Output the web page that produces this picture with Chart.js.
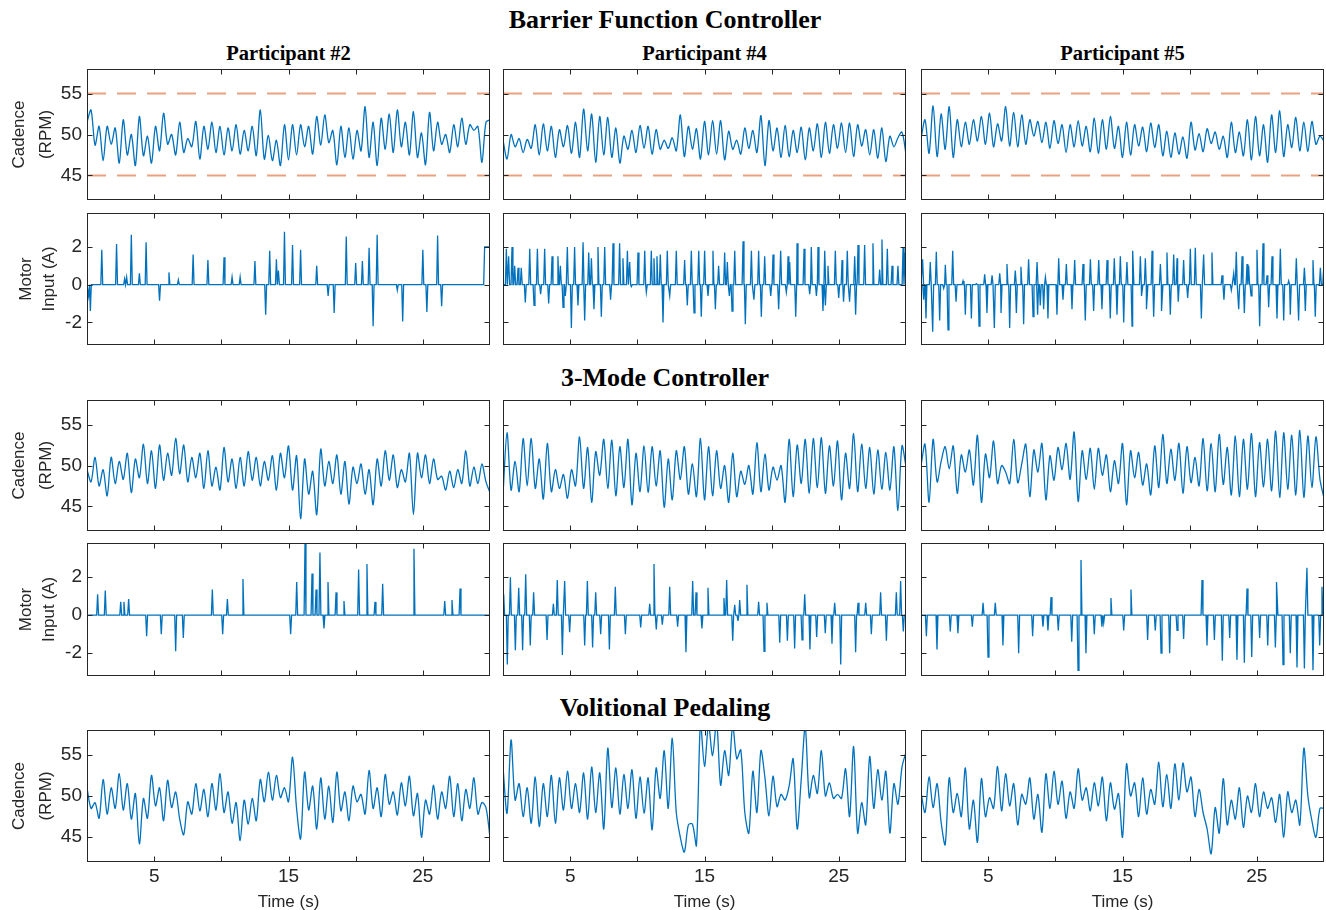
<!DOCTYPE html>
<html>
<head>
<meta charset="utf-8">
<title>Cadence and Motor Input</title>
<script src="https://cdn.jsdelivr.net/npm/chart.js@4.4.1/dist/chart.umd.min.js"></script>
<style>
  html, body { margin: 0; padding: 0; background: #fff; width: 1326px; height: 910px; overflow: hidden; }
  #fig { position: relative; width: 1326px; height: 910px; }
  .panel { position: absolute; }
  .hdr {
    position: absolute; transform: translate(-50%, -50%); white-space: nowrap;
    font-family: "Liberation Serif", "Times New Roman", serif; font-weight: bold; color: #000;
  }
  .hdr.big { font-size: 26px; }
  .hdr.sub { font-size: 20.5px; }
</style>
</head>
<body>
<div id="fig"></div>
<script>
// --- 1. DATA ---
const T_MIN = 0, T_MAX = 30;
const X_TICKS = [5, 10, 15, 20, 25];
const X_LABELS = [5, 15, 25];
const CAD_TICKS = [45, 50, 55];
const MOT_TICKS = [-2, 0, 2];
const CAD_RANGE = [42, 58];
const MOT_RANGE = [-3.2, 3.8];
const BARRIER_UPPER = 55;
const BARRIER_LOWER = 45;

const sections = ['Barrier Function Controller', '3-Mode Controller', 'Volitional Pedaling'];
const participants = ['Participant #2', 'Participant #4', 'Participant #5'];

// cadence (RPM), peaks / troughs, evenly spread over 0-30 s
const cadBfcP2 = [51.5, 53, 48.7, 51, 46.8, 51, 48.8, 50.8, 46.5, 51.8, 47.5,
  50, 46.2, 52.2, 47.4, 49.8, 46.5, 51, 48, 52.6, 48.8,
  50, 47.5, 51.5, 47.8, 49.5, 48.5, 51.6, 47, 51, 48.2,
  51.5, 47.8, 51, 47.5, 50.8, 48, 51.2, 47.6, 50.5, 48,
  51, 47.4, 53, 47, 49.9, 46.8, 49.3, 46.2, 51.2, 46.9,
  51.2, 47.5, 51.2, 48.5, 51, 47.6, 52.2, 48.7, 52.4, 49,
  50.5, 46.3, 51, 47.2, 50.8, 47, 50.5, 48, 53.4, 47.2,
  51.5, 46.2, 52, 48.2, 52.5, 47.8, 53, 48.5, 51.5, 47.5,
  52.8, 47.2, 50.2, 46.3, 52.7, 48, 51.5, 48.8, 50, 47.8,
  51.2, 48.5, 52, 48.8, 51.2, 50.5, 51, 46.6, 51.5, 51.8];
const cadBfcP4 = [49.3, 47, 50, 48.5, 49.5, 47.8, 49.4, 48.3, 51.2, 47.5, 51.3,
  48, 51, 47.2, 50.6, 48.5, 51.1, 47.7, 51.5, 47.2, 53.1,
  48, 52.5, 46.6, 52.2, 47.5, 52.1, 47.2, 50.8, 46.5, 49.8,
  48.2, 50.5, 47.8, 51.1, 48.3, 51, 47.6, 50.6, 48.2, 49.3,
  48.3, 49.6, 48, 52.4, 47.3, 51, 48.2, 50.7, 47, 51.6,
  47.5, 51.7, 47.6, 51.7, 46.9, 50.4, 48.2, 49.3, 47.6, 50.8,
  48.3, 50.5, 47.8, 52.3, 46.2, 51.7, 48, 50.8, 47.2, 51.1,
  47.3, 50.5, 47.8, 50.9, 46.9, 50.8, 48, 51.3, 47.2, 51.5,
  47.7, 51.2, 48.3, 51.4, 47.8, 51.4, 47.3, 51.2, 48.6, 50.6,
  47.5, 50.6, 47.1, 50.8, 46.7, 49.8, 48.5, 49.6, 50.3, 47.6];
const cadBfcP5 = [49.5, 51.8, 47.7, 53.5, 47.3, 52.5, 48.2, 53.4, 47.2, 51.8, 48.5,
  51.5, 48.8, 51.8, 49.2, 52.2, 48.8, 52.6, 48.5, 51.3, 49.2,
  53.4, 48.6, 52.7, 48.5, 52.4, 48.8, 51.8, 49.8, 51.6, 49,
  51.5, 48.3, 51.7, 48.9, 51.2, 47.8, 51.2, 48.5, 51.7, 48.6,
  51, 47.9, 52, 47.7, 51.8, 48.2, 52.2, 48.3, 51, 47.2,
  51.5, 47.5, 51.2, 48.6, 50.9, 47.9, 51.4, 48.4, 51.2, 47.4,
  50.4, 47.2, 50.2, 47.6, 49.7, 47.1, 51.5, 48.1, 50.1, 47.9,
  50.7, 48.9, 50.3, 48.2, 49.8, 47.2, 51.5, 47.8, 50.3, 47.4,
  51.8, 46.9, 52.2, 47.4, 51.2, 46.6, 52.4, 47.8, 52.9, 47.3,
  51.2, 48.4, 52.1, 48, 51.5, 47.9, 51.6, 48.8, 49.8, 49.2];
const cad3mP2 = [49.5, 48, 51, 47.5, 49.5, 46.3, 51, 47.8, 50.5, 48.3, 51.5,
  46.7, 50.8, 48.5, 52.6, 47.8, 51.8, 47.2, 52.5, 48.2, 51.5,
  48.8, 53.3, 49, 52.5, 48, 51, 48.5, 51.5, 47.2, 51.8,
  47.5, 49.8, 47, 52.2, 48, 50.8, 47.2, 51, 47.5, 51.7,
  48.2, 51, 47.5, 50.5, 48.2, 51.2, 47, 51.5, 48.5, 52.4,
  47, 51.2, 43.5, 50.8, 46.5, 49.3, 44, 52, 47.5, 50.5,
  47.8, 51.3, 46.5, 50.5, 45.3, 49.8, 47.8, 50.2, 46.5, 49.5,
  45.2, 50.8, 47.5, 51.8, 48.2, 51.3, 47.3, 49.5, 48, 51.5,
  44, 51.5, 48.5, 51.3, 47.8, 50.8, 48.3, 48.7, 47, 49.3,
  47.3, 49.5, 47.8, 51.8, 47.5, 49.8, 47.8, 50.2, 48, 46.7];
const cad3mP4 = [46.5, 54, 47, 50.5, 46.8, 53.3, 47.5, 53.3, 47.2, 50.8, 45.9,
  52.7, 46.8, 49.5, 47.2, 48.9, 46, 49.5, 47.5, 53.5, 47.2,
  52.2, 45.5, 51.7, 48.8, 53.2, 47.2, 53.1, 46.3, 52.3, 47.3,
  53.2, 45.2, 51.5, 46.8, 52.4, 46.7, 52.3, 47.5, 51.8, 44.9,
  50.8, 45.8, 51.8, 48.3, 52.3, 46.5, 50.2, 46.2, 53.3, 45.8,
  52.3, 46.3, 51.8, 47.2, 50, 45.5, 51.5, 46.2, 49.3, 47.7,
  50, 46.5, 52.8, 46.8, 51.4, 47, 49.8, 48.2, 50, 45.5,
  53.2, 46.2, 52.5, 47.8, 53.2, 46.6, 53.3, 47.3, 53.4, 46.6,
  52.4, 47.5, 53, 45.8, 51.5, 47.2, 53.9, 46.8, 52.6, 47.2,
  52.2, 46.5, 51.9, 47.1, 51.6, 47, 52.3, 44.5, 52.4, 49.9];
const cad3mP5 = [50, 52.6, 45.5, 53.2, 48, 50.5, 52.3, 49.6, 52.4, 46.6, 51.3,
  49.2, 51.9, 47.6, 53.7, 45.5, 51.4, 48.5, 53, 47.8, 50,
  49.2, 47.8, 53.2, 47.9, 50.2, 52.6, 46.2, 51.9, 49.2, 52.7,
  45.8, 51.2, 48.2, 52.2, 49.5, 52.7, 48.3, 54.1, 45.6, 51.8,
  48.3, 52.1, 47.1, 52.1, 48.8, 51.3, 46.8, 50.6, 47.8, 52.7,
  45.2, 51.8, 48.5, 51.6, 47.6, 50.2, 46.4, 52.4, 47.3, 53.8,
  47.8, 52, 48.2, 52.7, 46.6, 52.3, 47.9, 51, 47.5, 53.3,
  46.9, 52.7, 46.8, 53.8, 47.7, 52.2, 46.4, 53.6, 46.2, 53.2,
  47.1, 53.9, 46.2, 52.8, 47.4, 53.2, 46.9, 54.2, 46.1, 54,
  47.1, 53.7, 46.4, 54.3, 46.1, 53.6, 47.3, 53.5, 48.3, 46];
const cadVolP2 = [51, 48.5, 49.2, 47.3, 52, 47.8, 51, 48.5, 52.7, 48.3, 51.5,
  47.2, 50.3, 44.2, 49.7, 47.3, 52.5, 48.8, 51, 47, 51.9,
  48.6, 50.5, 47.2, 45.3, 49.3, 47.8, 51.5, 48.2, 50.8, 47.5,
  51.5, 48.3, 52.7, 48, 50.5, 46.7, 49.2, 44.6, 49.5, 46.6,
  49.7, 47, 52, 49.3, 52.9, 49.5, 52.5, 49.8, 51, 49.3,
  54.7, 48.5, 44.8, 52.9, 48.3, 51.2, 46, 52.2, 47.2, 51.2,
  46.8, 52.9, 48.2, 50.5, 47, 51.2, 49.3, 50.2, 47.8, 53.1,
  48.5, 51, 47.5, 52.6, 49, 50.5, 47.7, 51.6, 48.8, 52.4,
  47.6, 50.3, 45, 49.5, 47.8, 51.3, 47.2, 50.5, 48.5, 52.4,
  47.5, 51.5, 47, 50.8, 48.5, 52.2, 47.8, 49.2, 48.6, 45];
const cadVolP4 = [53.5, 47.9, 56.8, 49.5, 51.5, 47.5, 51, 46.7, 52.3, 46.3, 51.5,
  47.5, 52.5, 46.7, 52.2, 48.3, 53, 48.5, 51.5, 48, 52.8,
  47.2, 53.5, 48, 52.8, 46, 55.8, 48.6, 53.4, 47.8, 52.6,
  48.5, 53.2, 47.3, 52.3, 47.9, 52.2, 45.9, 53.4, 49.7, 55.5,
  48.5, 57, 48, 45, 43.2, 46.5, 46.6, 44, 58.8, 53.6,
  58.6, 54.9, 59, 51.3, 55.5, 52.5, 58.6, 54.5, 55.6, 48,
  45.5, 53, 48, 55.5, 52.2, 47.6, 52.4, 48.7, 50.2, 49.5,
  51.2, 54.5, 46, 52, 58.4, 49.8, 52.5, 50.3, 55.5, 50,
  51.6, 49.7, 50.2, 49.7, 53.3, 47.5, 56, 45.5, 49.2, 46.5,
  54.8, 48.5, 53.2, 49.5, 53, 45.5, 51.5, 49, 53.5, 55.3];
const cadVolP5 = [50.5, 48, 52.3, 48.6, 51.5, 46.8, 44.1, 52.2, 48, 50.3, 47.5,
  53.4, 46, 49.5, 44.4, 52.1, 47.5, 49.8, 48.5, 53.6, 48.2,
  52.7, 48.8, 51.5, 46.5, 50.2, 49, 52.2, 47.2, 50.2, 45.6,
  52.7, 48.5, 53, 49, 51.8, 47.3, 50.5, 48.5, 53.3, 49.5,
  51, 48.2, 51.6, 48.8, 52.3, 47, 51.6, 48.4, 50.3, 45,
  53.9, 50, 51.6, 47.5, 52.2, 47.8, 50.8, 49, 54.1, 48.7,
  52.6, 48.5, 53.9, 49.5, 54, 50.5, 52.3, 47.5, 50.8, 48,
  46, 43, 48.6, 45.5, 52.1, 46.5, 49.5, 47.2, 51, 46.2,
  50, 48, 51.5, 47.5, 50.5, 48.5, 49.8, 46.8, 50.2, 45,
  50.5, 48, 49.5, 46.5, 55.8, 50, 47, 45, 48.5, 48.5];

// motor input (A): [time s, current A, hold s (optional)]
const motBfcP2 = [[0.12, -0.6], [0.25, -1.4], [1.1, 1.85], [2.2, 2.15], [2.8, 0.3], [2.95, 0.4],
  [3.3, 2.65], [3.9, 0.6], [4.4, 2.25], [5.4, -0.85], [6.1, 0.65], [6.8, 0.25], [7.9, 1.6],
  [9.0, 1.3], [10.2, 1.45], [10.8, 0.4], [11.4, 0.4], [12.5, 1.25], [13.3, -1.6], [13.6, 1.8],
  [14.1, 1.35], [14.25, 0.75], [14.7, 2.8], [15.3, 2.1], [15.9, 1.85], [17.1, 1.0], [17.95, -0.6],
  [18.4, -1.5], [19.3, 2.55], [20.0, 1.15], [20.5, 1.25], [21.0, 1.95], [21.3, -2.2], [21.6, 2.65],
  [23.1, -0.3], [23.5, -1.95], [25.0, 1.85], [25.3, -1.45], [26.1, 2.6], [26.4, -1.15], [29.6, 2.0, 0.6]];
const motBfcP4 = [[0.25, 1.9], [0.42, 1.5], [0.67, 2.0], [0.87, 1.0], [1.12, 0.9], [1.36, 0.9],
  [1.99, 1.9], [2.56, 1.9], [3.1, 1.9], [3.65, 1.5], [4.09, 1.5], [4.27, 1.0], [4.79, 2.0],
  [5.33, 2.0], [5.96, 2.25], [6.38, 1.7], [6.58, 1.4], [7.07, 2.0], [7.57, 2.0], [8.19, 2.2],
  [8.68, 2.2], [8.93, 1.4], [9.26, 1.8], [9.43, 1.2], [10.05, 1.7], [10.55, 1.8], [11.04, 1.8],
  [11.24, 1.4], [11.46, 1.5], [11.71, 1.6], [12.23, 1.8], [12.9, 1.8], [13.52, 1.3], [14.02, 1.8],
  [14.57, 1.8], [15.01, 1.8], [15.63, 1.8], [16.05, 1.0], [16.5, 1.7], [16.7, 1.2], [17.25, 1.8],
  [17.87, 2.3], [18.49, 1.8], [19.03, 1.8], [19.48, 1.5], [20.1, 1.6], [20.67, 1.8], [21.22, 1.5],
  [21.34, 1.2], [21.89, 2.2], [22.41, 1.9], [22.95, 2.0], [23.45, 2.0], [23.95, 1.8], [24.19, 1.0],
  [24.74, 1.8], [25.24, 1.3], [25.63, 1.8], [26.18, 1.5], [26.43, 2.1], [26.92, 2.1], [27.54, 2.2],
  [28.04, 0.8], [28.21, 2.4], [28.61, 1.9], [28.96, 1.0], [29.4, 1.0], [29.78, 2.0], [29.92, 1.7],
  [1.66, -0.95], [2.31, -1.1], [2.8, -0.5], [3.4, -1.0], [4.47, -1.2], [4.64, -0.6], [5.09, -2.3],
  [5.58, -1.1], [6.08, -1.9], [6.77, -1.3], [7.32, -1.7], [8.01, -0.8], [9.55, -0.1], [10.67, -0.4],
  [11.91, -2.0], [12.41, -0.6], [13.72, -1.1], [14.22, -1.5], [14.76, -1.7], [15.26, -0.6],
  [15.81, -1.3], [16.85, -0.6], [17.05, -1.4], [18.04, -2.1], [18.68, -0.8], [19.23, -1.7],
  [19.93, -0.6], [20.52, -1.3], [21.09, -0.4], [21.79, -1.7], [22.83, -0.5], [23.33, -0.6],
  [23.82, -1.4], [24.0, -1.1], [24.99, -0.7], [25.35, -0.9], [25.8, -0.9], [26.25, -1.6]];
const motBfcP5 = [[0.12, 1.35], [0.69, 1.2], [1.14, 1.75], [1.81, 1.05], [2.36, 1.8], [3.13, 0.2],
  [4.12, 0.05], [4.74, 0.55], [5.29, 0.5], [5.86, 0.6], [6.4, 1.1], [7.02, 0.75], [7.44, 0.95],
  [8.01, 1.35], [8.64, 1.2], [9.26, 0.4], [10.25, 1.4], [10.82, 1.1], [11.44, 1.3], [12.06, 1.1],
  [12.61, 1.35], [13.23, 1.3], [13.85, 1.3], [14.39, 1.4], [14.84, 1.5], [15.33, 1.2], [15.78, 1.8],
  [16.33, 1.5], [16.7, 1.4], [17.2, 1.8], [17.82, 1.1], [18.31, 1.7], [18.81, 1.6], [19.06, 1.4],
  [19.55, 1.3], [20.05, 1.9], [20.42, 1.95], [21.04, 1.6], [21.66, 1.7], [22.41, 0.5], [23.28, 0.6],
  [23.47, 1.75], [23.9, 1.5], [24.27, 1.1], [24.39, 1.0], [25.01, 1.85], [25.46, 2.2], [25.76, 0.5],
  [26.13, 1.5], [26.75, 1.9], [27.37, 0.2], [27.94, 1.4], [28.54, 0.9], [29.18, 1.3], [29.73, 0.9],
  [29.98, 0.9],
  [0.2, -0.8], [0.37, -1.8], [0.87, -2.5], [1.39, -1.9], [1.69, -0.2], [2.01, -2.4], [2.61, -0.9],
  [3.3, -1.6], [3.75, -1.8], [4.32, -2.2], [4.91, -1.5], [5.46, -2.3], [5.96, -1.5], [6.6, -2.3],
  [7.1, -1.5], [7.64, -2.1], [8.34, -1.7], [8.68, -1.6], [8.88, -1.1], [9.13, -1.3], [9.45, -1.8],
  [10.12, -1.6], [10.57, -0.8], [11.24, -1.3], [12.23, -1.9], [12.85, -1.4], [13.47, -1.3],
  [14.09, -1.8], [14.59, -1.6], [15.09, -2.0], [15.71, -2.2], [16.45, -0.6], [16.82, -1.3],
  [17.32, -1.7], [17.94, -1.4], [18.56, -1.6], [19.15, -0.9], [19.85, -0.7], [20.87, -1.8],
  [22.55, -0.8], [23.1, -0.3], [23.65, -1.3], [24.07, -1.5], [24.57, -0.6], [25.21, -2.2],
  [25.88, -1.2], [26.5, -1.8], [27.0, -1.9], [27.49, -1.6], [28.11, -1.9], [28.61, -1.4], [29.35, -1.7]];
const mot3mP2 = [[0.79, 1.1], [1.36, 1.3], [2.51, 0.7], [2.75, 0.7], [3.1, 0.85], [9.33, 1.35],
  [10.45, 0.85], [11.61, 1.9], [15.61, 1.75], [16.23, 3.8], [16.75, 2.2], [17.05, 1.35], [17.34, 3.3],
  [17.94, 1.75], [18.54, 1.2], [19.13, 0.75], [20.22, 2.4], [20.84, 2.7], [21.44, 0.7], [22.01, 1.65],
  [24.34, 3.5], [26.63, 0.75], [27.17, 0.8], [27.77, 1.4],
  [4.44, -1.1], [5.53, -1.0], [6.6, -1.9], [7.17, -1.2], [10.1, -1.0], [15.16, -1.0], [17.64, -0.7]];
const mot3mP4 = [[0.05, 1.1], [0.55, 2.0], [1.17, 1.45], [1.69, 2.15], [2.28, 1.2], [3.75, 0.6],
  [4.04, 1.85], [4.59, 1.8], [6.28, 1.8], [6.9, 1.2], [8.36, 1.5], [10.92, 0.6], [11.24, 2.7],
  [12.41, 1.5], [14.12, 1.8], [14.37, 1.2], [15.26, 1.45], [16.45, 0.9], [16.65, 1.85], [17.25, 0.55],
  [17.62, 0.8], [18.16, 1.6], [19.03, 0.7], [19.65, 0.65], [22.46, 1.1], [24.69, 0.65], [26.43, 0.65],
  [27.0, 0.65], [28.11, 1.2], [29.28, 1.2], [29.6, 1.8],
  [0.32, -2.6], [0.92, -1.85], [1.46, -1.85], [2.03, -1.6], [3.28, -1.3], [4.42, -2.1], [4.96, -0.9],
  [6.08, -1.6], [6.67, -1.7], [7.27, -1.0], [7.92, -1.8], [9.11, -1.0], [10.25, -0.65], [11.41, -0.75],
  [11.86, -0.5], [13.0, -0.6], [13.62, -1.95], [14.81, -0.7], [17.1, -1.35], [17.49, -0.3],
  [19.43, -1.9], [20.6, -1.45], [21.17, -1.35], [21.71, -1.75], [22.26, -1.3], [22.85, -1.8],
  [23.35, -1.15], [23.99, -0.95], [24.49, -1.5], [25.14, -2.6], [26.25, -1.95], [27.42, -1.0],
  [28.54, -1.35], [29.8, -0.85]];
const mot3mP5 = [[4.62, 0.65], [5.53, 0.65], [9.68, 0.95], [11.91, 2.9], [14.14, 0.9], [15.63, 1.35],
  [20.92, 1.85], [24.27, 1.4], [26.5, 1.75], [28.73, 2.5], [29.85, 1.5],
  [0.4, -1.1], [1.19, -1.8], [2.18, -0.85], [2.75, -0.95], [3.82, -0.6], [4.99, -2.2], [6.1, -1.6],
  [7.27, -2.0], [8.31, -1.1], [9.08, -0.6], [9.45, -0.8], [10.22, -0.8], [11.22, -1.4], [11.69, -2.9],
  [12.28, -2.0], [12.9, -1.0], [13.47, -0.6], [13.6, -0.4], [15.09, -0.8], [16.87, -1.3], [17.44, -0.8],
  [17.87, -2.0], [18.51, -2.0], [19.06, -0.8], [19.55, -1.25], [21.29, -1.6], [21.84, -1.3],
  [22.43, -2.4], [22.98, -1.2], [23.52, -2.35], [24.07, -2.5], [24.62, -2.2], [25.21, -1.2],
  [25.81, -1.6], [26.38, -1.7], [26.95, -2.6], [27.49, -2.0], [27.99, -2.75], [28.54, -2.8],
  [29.18, -2.9], [29.68, -1.6]];

// --- 2. LAYOUT & STYLE ---
const COL_LEFT = [87, 503, 921];
const PANEL_W = 403;
const ROW_TOP = [69, 213, 400, 543, 730];
const ROW_H = [131, 132, 131, 133, 132];
const PAD_L = 87, PAD_R = 4, PAD_T = 4, PAD_B = 60;
const SECTION_Y = [20, 378, 708];
const PART_Y = 53;

const LINE_BLUE = '#0072BD';
const BARRIER_COLOR = 'rgba(217, 83, 25, 0.55)';
const AXIS_COLOR = '#262626';
const TICK_LEN = 5;
const SPIKE_HALF = 0.07;
const SANS = '"Liberation Sans", Arial, sans-serif';

Chart.defaults.font.family = SANS;
Chart.defaults.color = AXIS_COLOR;

const ROWS = [
  { type: 'cad', series: [cadBfcP2, cadBfcP4, cadBfcP5], barrier: true },
  { type: 'mot', series: [motBfcP2, motBfcP4, motBfcP5] },
  { type: 'cad', series: [cad3mP2, cad3mP4, cad3mP5] },
  { type: 'mot', series: [mot3mP2, mot3mP4, mot3mP5] },
  { type: 'cad', series: [cadVolP2, cadVolP4, cadVolP5], bottom: true }
];

// box + inward ticks on all four sides (MATLAB look)
const framePlugin = {
  id: 'frame',
  afterDatasetsDraw(chart, args, opts) {
    const { ctx, chartArea: a, scales } = chart;
    const l = Math.round(a.left) + 0.5, r = Math.round(a.right) - 0.5;
    const t = Math.round(a.top) + 0.5, b = Math.round(a.bottom) - 0.5;
    ctx.save();
    ctx.strokeStyle = AXIS_COLOR;
    ctx.lineWidth = 1;
    ctx.strokeRect(l, t, r - l, b - t);
    ctx.beginPath();
    opts.xTicks.forEach(v => {
      const px = Math.round(scales.x.getPixelForValue(v)) + 0.5;
      ctx.moveTo(px, b); ctx.lineTo(px, b - TICK_LEN);
      ctx.moveTo(px, t); ctx.lineTo(px, t + TICK_LEN);
    });
    opts.yTicks.forEach(v => {
      const py = Math.round(scales.y.getPixelForValue(v)) + 0.5;
      ctx.moveTo(l, py); ctx.lineTo(l + TICK_LEN, py);
      ctx.moveTo(r, py); ctx.lineTo(r - TICK_LEN, py);
    });
    ctx.stroke();
    ctx.restore();
  }
};

// --- 3. HELPERS ---
function cadencePoints(vals) {
  const step = (T_MAX - T_MIN) / (vals.length - 1);
  return vals.map((v, i) => ({ x: T_MIN + i * step, y: v }));
}

function motorPoints(spikes) {
  const pts = [{ x: T_MIN, y: 0 }];
  spikes.slice().sort((p, q) => p[0] - q[0]).forEach(([t, a, hold]) => {
    const h = hold || 0;
    pts.push({ x: t - SPIKE_HALF, y: 0 }, { x: t, y: a });
    if (h) pts.push({ x: t + h, y: a });
    pts.push({ x: t + h + SPIKE_HALF, y: 0 });
  });
  pts.push({ x: T_MAX, y: 0 });
  return pts;
}

function barrierLine(v) {
  return {
    data: [{ x: T_MIN, y: v }, { x: T_MAX, y: v }],
    borderColor: BARRIER_COLOR, borderWidth: 2, borderDash: [19, 11],
    pointRadius: 0, tension: 0
  };
}

function addHeader(text, x, y, cls) {
  const d = document.createElement('div');
  d.className = 'hdr ' + cls;
  d.style.left = x + 'px';
  d.style.top = y + 'px';
  d.textContent = text;
  document.getElementById('fig').appendChild(d);
}

function makePanel(rowIdx, colIdx) {
  const row = ROWS[rowIdx];
  const isCad = row.type === 'cad';
  const isLeft = colIdx === 0;
  const w = PANEL_W + PAD_L + PAD_R;
  const h = ROW_H[rowIdx] + PAD_T + PAD_B;

  const div = document.createElement('div');
  div.className = 'panel';
  div.style.left = (COL_LEFT[colIdx] - PAD_L) + 'px';
  div.style.top = (ROW_TOP[rowIdx] - PAD_T) + 'px';
  const canvas = document.createElement('canvas');
  canvas.width = w; canvas.height = h;
  canvas.style.width = w + 'px'; canvas.style.height = h + 'px';
  div.appendChild(canvas);
  document.getElementById('fig').appendChild(div);

  const series = row.series[colIdx];
  const datasets = [];
  if (row.barrier) datasets.push(barrierLine(BARRIER_UPPER), barrierLine(BARRIER_LOWER));
  datasets.push({
    data: isCad ? cadencePoints(series) : motorPoints(series),
    borderColor: LINE_BLUE, borderWidth: 1.3, pointRadius: 0,
    tension: isCad ? 0.3 : 0
  });

  const yTicks = isCad ? CAD_TICKS : MOT_TICKS;
  const yRange = isCad ? CAD_RANGE : MOT_RANGE;

  new Chart(canvas, {
    type: 'line',
    data: { datasets },
    options: {
      animation: false, responsive: false, events: [],
      layout: { padding: { top: PAD_T, right: PAD_R, left: 0, bottom: 0 }, autoPadding: false },
      plugins: {
        legend: { display: false },
        tooltip: { enabled: false },
        frame: { xTicks: X_TICKS, yTicks: yTicks }
      },
      scales: {
        x: {
          type: 'linear', min: T_MIN, max: T_MAX,
          grid: { display: false, drawTicks: false }, border: { display: false },
          afterBuildTicks: s => { s.ticks = X_TICKS.map(v => ({ value: v })); },
          // fixed box size, no label overhang padding
          afterFit: s => { s.height = PAD_B; s.paddingLeft = 0; s.paddingRight = 0; },
          ticks: {
            display: !!row.bottom, autoSkip: false, maxRotation: 0, padding: 3,
            font: { size: 19 },
            callback: v => X_LABELS.includes(v) ? String(v) : ''
          },
          title: {
            display: !!row.bottom, text: 'Time (s)',
            font: { size: 17, lineHeight: 1.2 }, padding: { top: 0, bottom: 9 }
          }
        },
        y: {
          type: 'linear', min: yRange[0], max: yRange[1],
          grid: { display: false, drawTicks: false }, border: { display: false },
          afterBuildTicks: s => { s.ticks = yTicks.map(v => ({ value: v })); },
          afterFit: s => { s.width = PAD_L; s.paddingTop = 0; s.paddingBottom = 0; },
          ticks: { display: isLeft, padding: 5, font: { size: 19 } },
          title: {
            display: isLeft,
            text: isCad ? ['Cadence', '(RPM)'] : ['Motor', 'Input (A)'],
            font: { size: 17, lineHeight: isCad ? 1.6 : 1.35 },
            padding: { top: isCad ? 6 : 15, bottom: 0 }
          }
        }
      }
    },
    plugins: [framePlugin]
  });
}

// --- 4. BUILD ---
window.onload = function () {
  sections.forEach((s, i) => addHeader(s, 665, SECTION_Y[i], 'big'));
  participants.forEach((p, i) => addHeader(p, COL_LEFT[i] + PANEL_W / 2, PART_Y, 'sub'));
  ROWS.forEach((r, ri) => [0, 1, 2].forEach(ci => makePanel(ri, ci)));
};
</script>
</body>
</html>
